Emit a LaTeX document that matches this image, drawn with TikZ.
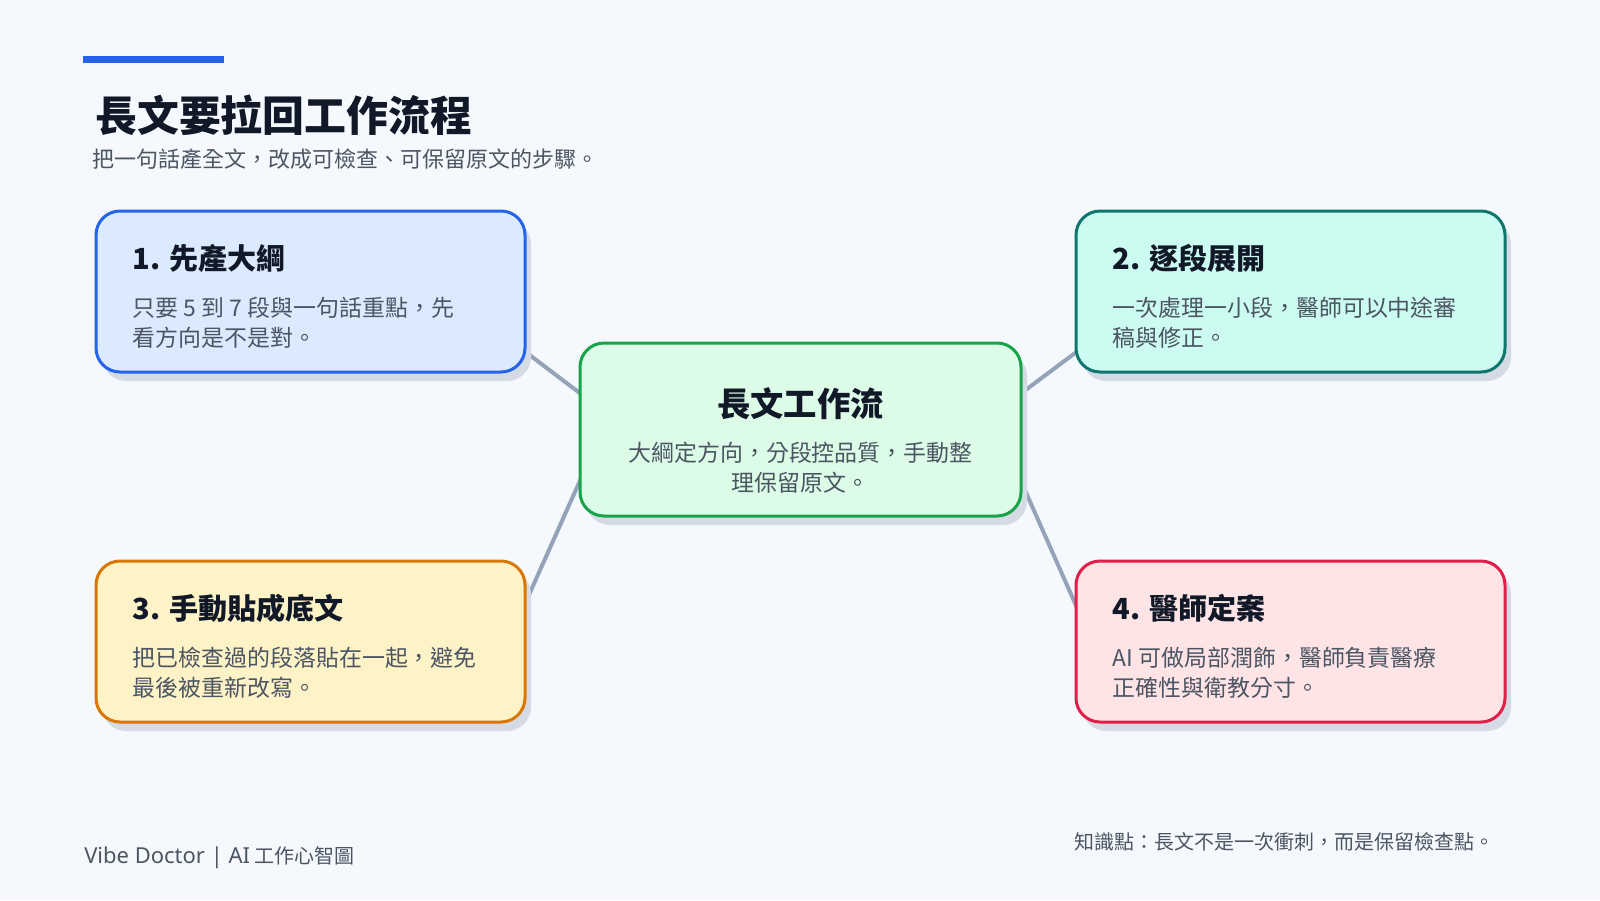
\documentclass[tikz,border=0pt]{standalone}
\usepackage{fontspec}
\setmainfont{Noto Sans CJK TC}
\newfontfamily\latinface{Noto Sans}
\usetikzlibrary{positioning,shadows,backgrounds}

\definecolor{pagebg}{HTML}{F5F9FD}
\definecolor{ink}{HTML}{111827}
\definecolor{muted}{HTML}{4B5563}
\definecolor{accent}{HTML}{2563EB}
\definecolor{linkc}{HTML}{94A3B8}
\definecolor{shadowc}{HTML}{D4DBE5}
\definecolor{bluefill}{HTML}{DBEAFE}
\definecolor{blueline}{HTML}{2563EB}
\definecolor{tealfill}{HTML}{CCFBF1}
\definecolor{tealline}{HTML}{0F766E}
\definecolor{greenfill}{HTML}{DCFCE7}
\definecolor{greenline}{HTML}{16A34A}
\definecolor{amberfill}{HTML}{FEF3C7}
\definecolor{amberline}{HTML}{D97706}
\definecolor{rosefill}{HTML}{FFE4E6}
\definecolor{roseline}{HTML}{E11D48}

\tikzset{
  % rounded card with a flat offset shadow
  card/.style      = {rectangle, rounded corners=18pt, line width=2.25pt,
                      minimum width=321.75pt, minimum height=120.75pt, inner sep=0pt,
                      drop shadow={shadow xshift=4.5pt, shadow yshift=-6.75pt,
                                   fill=shadowc, opacity=1}},
  % central card
  hub/.style       = {card, minimum width=330.75pt, minimum height=129.75pt,
                      fill=greenfill, draw=greenline},
  % card texts (base = baseline of the last line)
  cardtitle/.style = {anchor=base west, inner sep=0pt, text=ink,
                      font=\fontsize{21.8}{26}\selectfont\bfseries},
  cardbody/.style  = {anchor=base west, inner sep=0pt, text=muted, align=left,
                      font=\fontsize{17.2}{22.5}\selectfont},
  % spokes
  link/.style      = {line width=3pt, linkc},
}

\begin{document}
\begin{tikzpicture}[x=0.75pt, y=-0.75pt]

  % heading
  \node[fill=accent, minimum width=105.75pt, minimum height=5.25pt, inner sep=0pt, anchor=north west]
       (bar) at (83,56) {};
  \node[anchor=base west, inner sep=0pt, text=ink, font=\fontsize{31.4}{36}\selectfont\bfseries]
       (title) at ([shift={(12,68)}]bar.south west) {長文要拉回工作流程};
  \node[anchor=base west, inner sep=0pt, text=muted, font=\fontsize{16.5}{19}\selectfont]
       (subtitle) at ([shift={(-3,36)}]title.base west) {把一句話產全文，改成可檢查、可保留原文的步驟。};

  % hub
  \node[hub] (core) at (800.5,429.5) {};
  \node[anchor=base, inner sep=0pt, text=ink, font=\fontsize{25}{30}\selectfont\bfseries]
       (core-t) at ([shift={(0,75)}]core.north) {長文工作流};
  \node[anchor=base, inner sep=0pt, text=muted, align=center, font=\fontsize{17.2}{22.5}\selectfont]
       (core-d) at ([shift={(0,75)}]core-t.base) {大綱定方向，分段控品質，手動整\\理保留原文。};

  % the four steps
  \node[card, fill=bluefill, draw=blueline]   (outline) at (310.5,291.5) {};
  \node[card, fill=tealfill, draw=tealline]   (expand)  at (1290.5,291.5) {};
  \node[card, fill=amberfill, draw=amberline] (paste)   at (310.5,641.5) {};
  \node[card, fill=rosefill, draw=roseline]   (signoff) at (1290.5,641.5) {};

  \node[cardtitle] (outline-t) at ([shift={(38,60)}]outline.north west) {1. 先產大綱};
  \node[cardbody] (outline-d) at ([shift={(0,77)}]outline-t.base west)
       {只要 5 到 7 段與一句話重點，先\\看方向是不是對。};

  \node[cardtitle] (expand-t) at ([shift={(38,60)}]expand.north west) {2. 逐段展開};
  \node[cardbody] (expand-d) at ([shift={(0,77)}]expand-t.base west)
       {一次處理一小段，醫師可以中途審\\稿與修正。};

  \node[cardtitle] (paste-t) at ([shift={(38,60)}]paste.north west) {3. 手動貼成底文};
  \node[cardbody] (paste-d) at ([shift={(0,77)}]paste-t.base west)
       {把已檢查過的段落貼在一起，避免\\最後被重新改寫。};

  \node[cardtitle] (signoff-t) at ([shift={(38,60)}]signoff.north west) {4. 醫師定案};
  \node[cardbody] (signoff-d) at ([shift={(0,77)}]signoff-t.base west)
       {AI 可做局部潤飾，醫師負責醫療\\正確性與衛教分寸。};

  % footer
  \node[anchor=base west, inner sep=0pt, text=muted, font=\fontsize{15}{18}\selectfont]
       (brand) at (84,863) {{\latinface\fontsize{16.5}{18}\selectfont Vibe Doctor | AI} 工作心智圖};
  \node[anchor=base east, inner sep=0pt, text=muted, font=\fontsize{15}{18}\selectfont]
       (note) at ([shift={(-12,-14)}]signoff.south east |- brand.base) {知識點：長文不是一次衝刺，而是保留檢查點。};

  % page and spokes behind the cards
  \begin{scope}[on background layer]
    \fill[pagebg] (0,0) rectangle (1600,900);
    \draw[link] ([shift={(-20,-36)}]outline.south east) -- ([shift={(23,68)}]core.north west);
    \draw[link] ([shift={(24,-38)}]expand.south west)   -- ([shift={(-19,65)}]core.north east);
    \draw[link] ([shift={(-13,70)}]paste.north east)    -- ([shift={(19,-76)}]core.south west);
    \draw[link] ([shift={(17,81)}]signoff.north west)   -- ([shift={(-12,-60)}]core.south east);
  \end{scope}

\end{tikzpicture}
\end{document}
